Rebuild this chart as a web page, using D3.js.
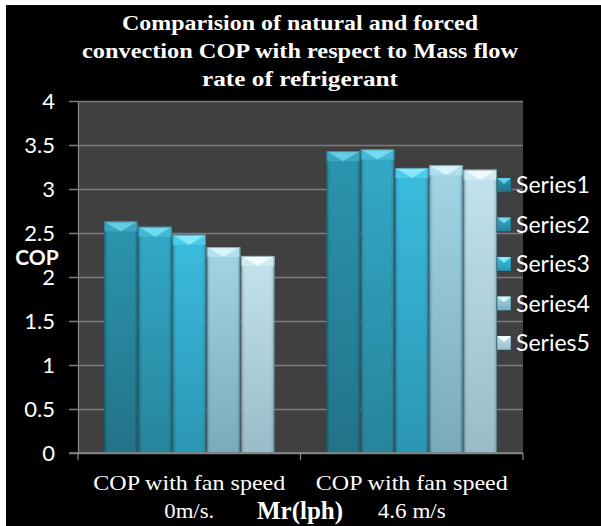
<!DOCTYPE html>
<html>
<head>
<meta charset="utf-8">
<script src="https://cdn.jsdelivr.net/npm/d3@7/dist/d3.min.js"></script>
<style>
  html, body { margin: 0; padding: 0; background: #ffffff; }
  svg { display: block; }
</style>
</head>
<body>
<svg id="chart" width="601" height="526"></svg>
<script>
// COP values per fan-speed condition, one entry per series
const categories = ["COP with fan speed 0m/s.", "COP with fan speed 4.6 m/s"];
const categoryLines = [["COP with fan speed", "0m/s."], ["COP with fan speed", "4.6 m/s"]];
const seriesNames = ["Series1", "Series2", "Series3", "Series4", "Series5"];
const series1 = [2.63, 3.43];
const series2 = [2.57, 3.45];
const series3 = [2.48, 3.24];
const series4 = [2.34, 3.27];
const series5 = [2.24, 3.22];
const yTicks = [0, 0.5, 1, 1.5, 2, 2.5, 3, 3.5, 4];
const yTickLabels = ["0", "0.5", "1", "1.5", "2", "2.5", "3", "3.5", "4"];
const titleLines = [
  "Comparision of natural and forced",
  "convection COP with respect to Mass flow",
  "rate of refrigerant"
];

const seriesValues = [series1, series2, series3, series4, series5];

// Bar palette: top colour, bottom colour, bevel highlight, bevel side
const palette = [
  { top: "#2b95b0", bottom: "#237388", hi: "#63cde6", side: "#3ba6c0" },
  { top: "#33aac8", bottom: "#27849c", hi: "#72dbf2", side: "#44b8d4" },
  { top: "#3bbde0", bottom: "#2b96b3", hi: "#86e8fb", side: "#4ccbea" },
  { top: "#a2d5e6", bottom: "#7aabbd", hi: "#d8f5fc", side: "#b2dfed" },
  { top: "#c3e3ee", bottom: "#99bcc8", hi: "#f2fcff", side: "#d2ebf3" }
];

const svg = d3.select("#chart");
const W = 601, H = 526;
const serif = "'Liberation Serif', 'Times New Roman', serif";
const sans = "Lato, 'Open Sans', sans-serif";

// frame
svg.append("rect").attr("x", 0).attr("y", 0).attr("width", W).attr("height", H).attr("fill", "#ffffff");
svg.append("rect").attr("x", 6).attr("y", 5).attr("width", W - 6).attr("height", H - 5).attr("fill", "#000000");

const plot = { left: 78, right: 523, top: 101, bottom: 453 };

const y = d3.scaleLinear().domain([0, 4]).range([plot.bottom, plot.top]);
const x0 = d3.scaleBand().domain(categories).range([plot.left, plot.right]).paddingInner(0).paddingOuter(0);
const bw = x0.bandwidth();
const x1 = d3.scaleBand().domain(seriesNames).range([bw * 0.117, bw * 0.883]).paddingInner(0.02);

// gradients
const defs = svg.append("defs");
palette.forEach((p, i) => {
  const g = defs.append("linearGradient").attr("id", "bar" + i)
    .attr("x1", 0).attr("y1", 0).attr("x2", 0).attr("y2", 1);
  g.append("stop").attr("offset", "0%").attr("stop-color", p.top);
  g.append("stop").attr("offset", "100%").attr("stop-color", p.bottom);
  const h = defs.append("linearGradient").attr("id", "shade" + i)
    .attr("x1", 0).attr("y1", 0).attr("x2", 1).attr("y2", 0);
  h.append("stop").attr("offset", "0%").attr("stop-color", "#000").attr("stop-opacity", 0.18);
  h.append("stop").attr("offset", "12%").attr("stop-color", "#000").attr("stop-opacity", 0.0);
  h.append("stop").attr("offset", "88%").attr("stop-color", "#000").attr("stop-opacity", 0.0);
  h.append("stop").attr("offset", "100%").attr("stop-color", "#000").attr("stop-opacity", 0.15);
});

// plot background
svg.append("rect")
  .attr("x", plot.left).attr("y", plot.top)
  .attr("width", plot.right - plot.left).attr("height", plot.bottom - plot.top)
  .attr("fill", "#404040");

// gridlines + y axis
const yAxis = d3.axisLeft(y).tickValues(yTicks)
  .tickSize(-(plot.right - plot.left))
  .tickFormat((d, i) => yTickLabels[i]);
const ya = svg.append("g").attr("transform", `translate(${plot.left},0)`).call(yAxis);
ya.select(".domain").attr("stroke", "#8a8a8a").attr("stroke-width", 1.2);
ya.selectAll(".tick line").attr("stroke", "#7c7c7c").attr("stroke-width", 1.3)
  .attr("x1", -9);
ya.selectAll(".tick text")
  .attr("x", -23)
  .attr("fill", "#ffffff")
  .attr("font-family", sans)
  .attr("font-size", 22)
  .attr("dy", "0.36em");

// bars
const groups = svg.append("g").selectAll("g")
  .data(categories)
  .join("g")
  .attr("transform", d => `translate(${x0(d)},0)`);

groups.each(function (cat, ci) {
  const g = d3.select(this);
  seriesNames.forEach((s, si) => {
    const v = seriesValues[si][ci];
    const bx = x1(s), w = x1.bandwidth();
    const top = y(v), bot = y(0);
    const p = palette[si];
    const bev = 10;
    g.append("rect").attr("x", bx).attr("y", top).attr("width", w).attr("height", bot - top)
      .attr("fill", `url(#bar${si})`);
    g.append("rect").attr("x", bx).attr("y", top).attr("width", w).attr("height", bot - top)
      .attr("fill", `url(#shade${si})`);
    // bevelled top
    g.append("polygon")
      .attr("points", [[bx, top], [bx + w / 2, top + bev], [bx, top + bev]].map(q => q.join(",")).join(" "))
      .attr("fill", p.side);
    g.append("polygon")
      .attr("points", [[bx + w, top], [bx + w / 2, top + bev], [bx + w, top + bev]].map(q => q.join(",")).join(" "))
      .attr("fill", p.side);
    g.append("polygon")
      .attr("points", [[bx, top], [bx + w, top], [bx + w / 2, top + bev]].map(q => q.join(",")).join(" "))
      .attr("fill", p.hi);
    g.append("rect").attr("x", bx + 0.5).attr("y", top + 0.5).attr("width", w - 1).attr("height", bot - top - 1)
      .attr("fill", "none").attr("stroke", "#1e4f5c").attr("stroke-opacity", 0.45).attr("stroke-width", 1);
  });
});

// x axis line and category ticks
const xa = svg.append("g");
xa.append("line").attr("x1", plot.left - 9).attr("x2", plot.right).attr("y1", plot.bottom).attr("y2", plot.bottom)
  .attr("stroke", "#8a8a8a").attr("stroke-width", 1.3);
const xTickPos = [plot.left, x0(categories[1]), plot.right];
xTickPos.forEach(px => {
  xa.append("line").attr("x1", px).attr("x2", px).attr("y1", plot.bottom).attr("y2", plot.bottom + 7)
    .attr("stroke", "#8a8a8a").attr("stroke-width", 1.2);
});

// category labels (slightly widened serif text)
const categoryLineWidths = [[192, 50], [192, 68]];
categories.forEach((c, i) => {
  const cx = x0(c) + bw / 2;
  categoryLines[i].forEach((line, li) => {
    svg.append("text")
      .attr("x", cx).attr("y", 490 + li * 28)
      .attr("text-anchor", "middle")
      .attr("fill", "#ffffff")
      .attr("font-family", serif)
      .attr("font-size", 22)
      .attr("textLength", categoryLineWidths[i][li])
      .attr("lengthAdjust", "spacingAndGlyphs")
      .text(line);
  });
});

// x axis title
svg.append("text")
  .attr("x", 300).attr("y", 519)
  .attr("text-anchor", "middle")
  .attr("fill", "#ffffff")
  .attr("font-family", serif)
  .attr("font-weight", "bold")
  .attr("font-size", 25)
  .text("Mr(lph)");

// y axis title
svg.append("text")
  .attr("x", 37).attr("y", 265)
  .attr("text-anchor", "middle")
  .attr("fill", "#ffffff")
  .attr("font-family", sans)
  .attr("font-weight", "bold")
  .attr("font-size", 21)
  .text("COP");

// chart title
const titleWidths = [356, 436, 196];
titleLines.forEach((line, i) => {
  svg.append("text")
    .attr("x", 300).attr("y", 30 + i * 28)
    .attr("text-anchor", "middle")
    .attr("fill", "#ffffff")
    .attr("font-family", serif)
    .attr("font-weight", "bold")
    .attr("font-size", 22)
    .attr("textLength", titleWidths[i])
    .attr("lengthAdjust", "spacingAndGlyphs")
    .text(line);
});

// legend
const legend = svg.append("g");
seriesNames.forEach((s, i) => {
  const ly = 185 + i * 39.5;
  const p = palette[i];
  const mx = 497, ms = 14, my = ly - 7;
  legend.append("rect").attr("x", mx).attr("y", my).attr("width", ms).attr("height", ms)
    .attr("fill", `url(#bar${i})`).attr("stroke", "#1e4f5c").attr("stroke-opacity", 0.5);
  legend.append("polygon")
    .attr("points", [[mx, my], [mx + ms, my], [mx + ms / 2, my + 6]].map(q => q.join(",")).join(" "))
    .attr("fill", p.hi);
  legend.append("text")
    .attr("x", 516).attr("y", ly)
    .attr("dy", "0.36em")
    .attr("fill", "#ffffff")
    .attr("font-family", sans)
    .attr("font-size", 23)
    .text(s);
});
</script>
</body>
</html>
